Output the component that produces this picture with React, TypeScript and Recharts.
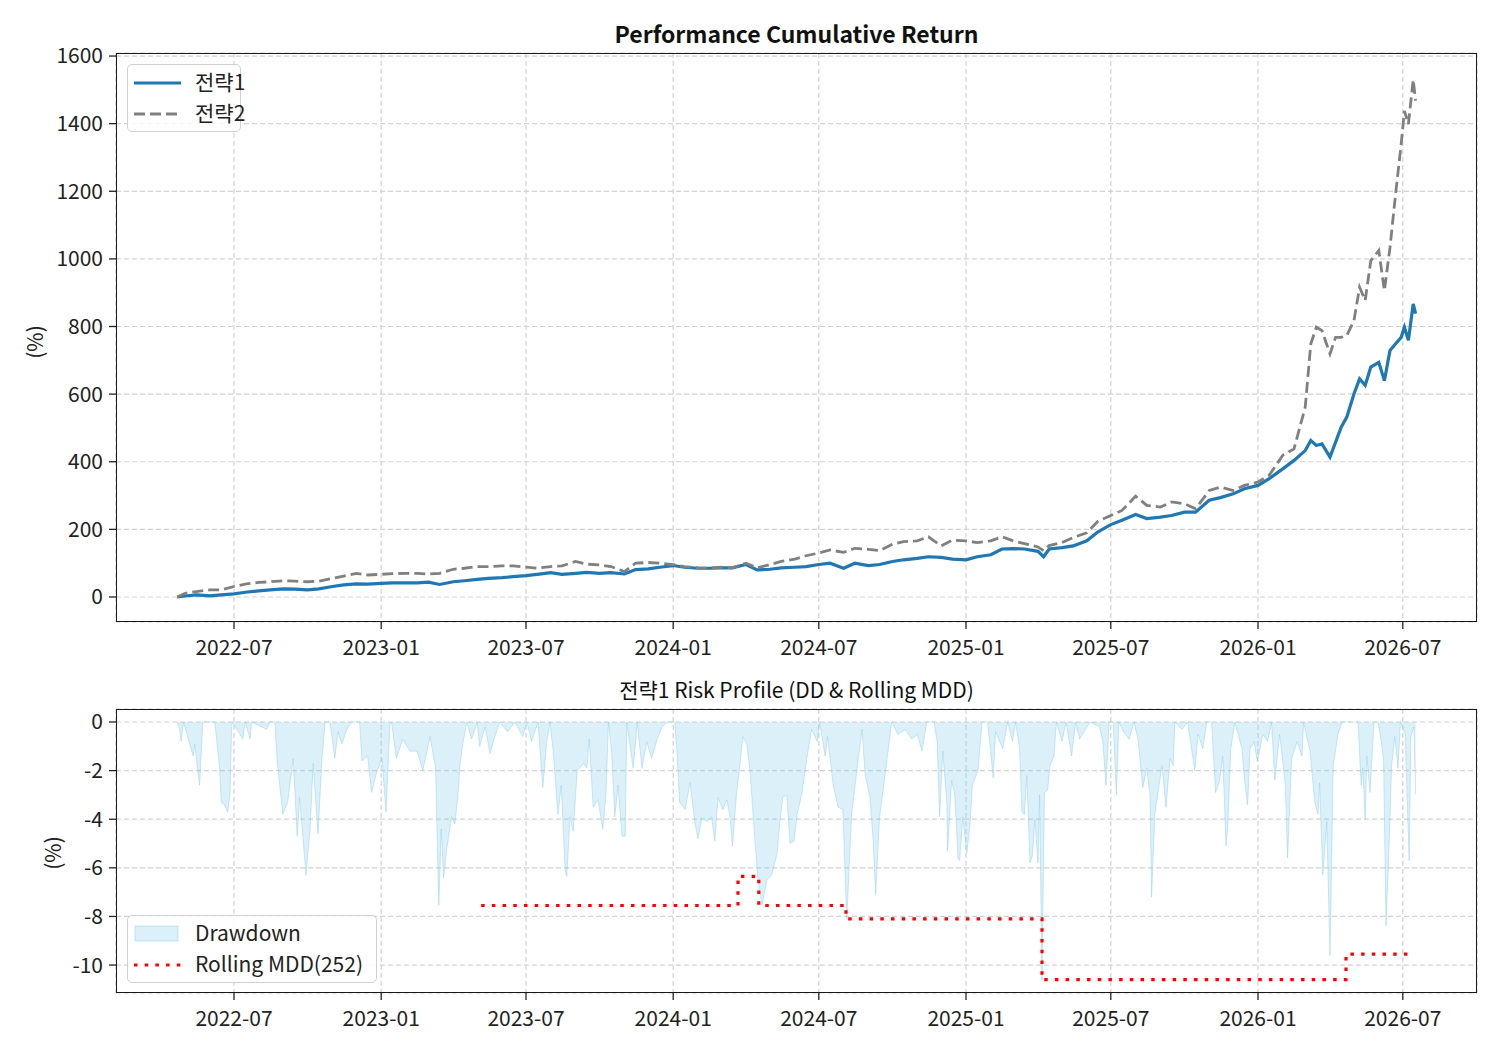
import React from 'react';
import { LineChart, ComposedChart, Line, Area, XAxis, YAxis, CartesianGrid } from 'recharts';

const FONT = '"Noto Sans CJK KR", "Noto Sans", sans-serif';

// cumulative return (%)
const perfDates = [
  '2022-04-21', '2022-05-01', '2022-05-15', '2022-06-01', '2022-06-15', '2022-07-01', '2022-07-15',
  '2022-08-01', '2022-08-15', '2022-09-01', '2022-09-15', '2022-10-01', '2022-10-15', '2022-11-01',
  '2022-11-15', '2022-12-01', '2022-12-15', '2023-01-01', '2023-01-15', '2023-02-01', '2023-02-15',
  '2023-03-01', '2023-03-15', '2023-04-01', '2023-04-15', '2023-05-01', '2023-05-15', '2023-06-01',
  '2023-06-15', '2023-07-01', '2023-07-15', '2023-08-01', '2023-08-15', '2023-09-01', '2023-09-15',
  '2023-10-01', '2023-10-15', '2023-11-01', '2023-11-15', '2023-12-01', '2023-12-15', '2024-01-01',
  '2024-01-15', '2024-02-01', '2024-02-15', '2024-03-01', '2024-03-15', '2024-04-01', '2024-04-15',
  '2024-05-01', '2024-05-15', '2024-06-01', '2024-06-15', '2024-07-01', '2024-07-15', '2024-08-01',
  '2024-08-15', '2024-09-01', '2024-09-15', '2024-10-01', '2024-10-15', '2024-11-01', '2024-11-15',
  '2024-12-01', '2024-12-15', '2025-01-01', '2025-01-15', '2025-02-01', '2025-02-15', '2025-03-01',
  '2025-03-15', '2025-04-01', '2025-04-08', '2025-04-15', '2025-05-01', '2025-05-15', '2025-06-01',
  '2025-06-15', '2025-07-01', '2025-07-15', '2025-08-01', '2025-08-15', '2025-09-01', '2025-09-15',
  '2025-10-01', '2025-10-15', '2025-11-01', '2025-11-15', '2025-12-01', '2025-12-15', '2026-01-01',
  '2026-01-15', '2026-02-01', '2026-02-15', '2026-03-01', '2026-03-08', '2026-03-15', '2026-03-22',
  '2026-04-01', '2026-04-08', '2026-04-15', '2026-04-22', '2026-05-01', '2026-05-08', '2026-05-15',
  '2026-05-22', '2026-06-01', '2026-06-08', '2026-06-15', '2026-06-22', '2026-06-29', '2026-07-03',
  '2026-07-08', '2026-07-14', '2026-07-17',
];
const strategy1 = [
  0, 3, 6, 3, 6, 9, 14,
  18, 21, 24, 23, 21, 24, 31,
  36, 39, 38, 40, 42, 42, 42,
  44, 37, 45, 48, 52, 55, 57,
  60, 63, 67, 72, 67, 70, 73,
  70, 72, 68, 81, 83, 88, 93,
  88, 85, 85, 86, 86, 96, 80,
  82, 86, 88, 90, 96, 100, 85,
  100, 93, 96, 105, 110, 114, 119,
  117, 112, 110, 119, 125, 142, 143,
  142, 135, 119, 142, 146, 151, 166,
  193, 214, 227, 244, 232, 236, 241,
  251, 251, 286, 294, 305, 320, 330,
  350, 379, 404, 433, 463, 448, 453,
  414, 458, 502, 532, 601, 645, 626,
  680, 694, 640, 729, 749, 768, 798,
  759, 867, 838,
];
const strategy2 = [
  0, 11, 16, 21, 21, 31, 38,
  43, 45, 48, 47, 45, 47, 55,
  62, 70, 65, 67, 69, 70, 70,
  68, 70, 82, 85, 90, 90, 92,
  92, 88, 85, 90, 92, 105, 97,
  95, 90, 75, 100, 102, 100, 96,
  90, 86, 85, 88, 86, 100, 86,
  96, 105, 112, 122, 130, 139, 132,
  144, 141, 137, 156, 164, 166, 178,
  151, 168, 166, 161, 166, 178, 166,
  158, 148, 137, 152, 161, 176, 190,
  224, 241, 256, 298, 271, 266, 281,
  276, 261, 315, 325, 315, 330, 340,
  360, 419, 438, 561, 749, 798, 788,
  719, 768, 768, 773, 818, 916, 877,
  995, 1025, 906, 1034, 1192, 1340, 1438,
  1399, 1530, 1468,
];

// 전략1 drawdown (%)
const ddDates = [
  '2022-04-21', '2022-04-24', '2022-04-26', '2022-04-29', '2022-05-11', '2022-05-13', '2022-05-19', '2022-05-23',
  '2022-06-07', '2022-06-13', '2022-06-15', '2022-06-19', '2022-06-23', '2022-06-26', '2022-06-28', '2022-06-29',
  '2022-07-12', '2022-07-15', '2022-07-21', '2022-07-23', '2022-08-11', '2022-08-15', '2022-08-21', '2022-08-24',
  '2022-08-31', '2022-09-06', '2022-09-13', '2022-09-18', '2022-09-21', '2022-09-29', '2022-10-04', '2022-10-08',
  '2022-10-14', '2022-10-19', '2022-10-23', '2022-10-29', '2022-11-04', '2022-11-08', '2022-11-13', '2022-11-19',
  '2022-11-25', '2022-12-05', '2022-12-08', '2022-12-15', '2022-12-20', '2022-12-26', '2023-01-02', '2023-01-07',
  '2023-01-12', '2023-01-14', '2023-01-20', '2023-01-28', '2023-02-06', '2023-02-15', '2023-02-22', '2023-03-03',
  '2023-03-10', '2023-03-14', '2023-03-17', '2023-03-20', '2023-03-24', '2023-03-30', '2023-04-03', '2023-04-07',
  '2023-04-09', '2023-04-13', '2023-04-18', '2023-04-24', '2023-05-01', '2023-05-04', '2023-05-11', '2023-05-17',
  '2023-05-22', '2023-05-29', '2023-06-08', '2023-06-17', '2023-06-27', '2023-07-02', '2023-07-08', '2023-07-16',
  '2023-07-22', '2023-07-27', '2023-07-31', '2023-08-04', '2023-08-10', '2023-08-14', '2023-08-19', '2023-08-21',
  '2023-08-25', '2023-08-29', '2023-09-03', '2023-09-06', '2023-09-11', '2023-09-15', '2023-09-18', '2023-09-23',
  '2023-09-29', '2023-10-05', '2023-10-09', '2023-10-12', '2023-10-16', '2023-10-20', '2023-10-24', '2023-10-29',
  '2023-11-02', '2023-11-04', '2023-11-12', '2023-11-17', '2023-11-23', '2023-11-29', '2023-12-05', '2023-12-12',
  '2023-12-18', '2023-12-25', '2024-01-03', '2024-01-06', '2024-01-09', '2024-01-16', '2024-01-22', '2024-01-28',
  '2024-02-01', '2024-02-06', '2024-02-12', '2024-02-18', '2024-02-22', '2024-02-26', '2024-03-03', '2024-03-08',
  '2024-03-12', '2024-03-15', '2024-03-20', '2024-03-24', '2024-03-28', '2024-04-02', '2024-04-06', '2024-04-12',
  '2024-04-16', '2024-04-21', '2024-04-27', '2024-05-03', '2024-05-10', '2024-05-13', '2024-05-17', '2024-05-22',
  '2024-05-26', '2024-05-31', '2024-06-04', '2024-06-10', '2024-06-16', '2024-06-22', '2024-06-29', '2024-07-02',
  '2024-07-09', '2024-07-12', '2024-07-19', '2024-07-25', '2024-07-31', '2024-08-05', '2024-08-11', '2024-08-18',
  '2024-08-24', '2024-08-28', '2024-09-03', '2024-09-07', '2024-09-10', '2024-09-15', '2024-09-21', '2024-09-30',
  '2024-10-08', '2024-10-17', '2024-10-25', '2024-11-01', '2024-11-07', '2024-11-13', '2024-11-22', '2024-11-26',
  '2024-11-29', '2024-12-03', '2024-12-08', '2024-12-09', '2024-12-14', '2024-12-18', '2024-12-22', '2024-12-24',
  '2024-12-28', '2025-01-02', '2025-01-06', '2025-01-09', '2025-01-16', '2025-01-21', '2025-01-28', '2025-02-04',
  '2025-02-07', '2025-02-16', '2025-02-22', '2025-02-28', '2025-03-04', '2025-03-09', '2025-03-12', '2025-03-15',
  '2025-03-18', '2025-03-22', '2025-03-25', '2025-03-28', '2025-04-01', '2025-04-03', '2025-04-06', '2025-04-09',
  '2025-04-13', '2025-04-16', '2025-04-21', '2025-04-24', '2025-05-01', '2025-05-06', '2025-05-13', '2025-05-18',
  '2025-05-23', '2025-06-05', '2025-06-17', '2025-06-21', '2025-06-25', '2025-06-29', '2025-07-04', '2025-07-08',
  '2025-07-11', '2025-07-17', '2025-07-24', '2025-07-30', '2025-08-04', '2025-08-10', '2025-08-15', '2025-08-19',
  '2025-08-21', '2025-08-25', '2025-08-29', '2025-09-03', '2025-09-08', '2025-09-13', '2025-09-17', '2025-09-19',
  '2025-09-28', '2025-10-05', '2025-10-14', '2025-10-18', '2025-10-24', '2025-10-29', '2025-11-04', '2025-11-09',
  '2025-11-14', '2025-11-18', '2025-11-22', '2025-11-24', '2025-11-28', '2025-12-03', '2025-12-12', '2025-12-15',
  '2025-12-19', '2025-12-22', '2025-12-27', '2025-12-31', '2026-01-03', '2026-01-07', '2026-01-13', '2026-01-18',
  '2026-01-22', '2026-01-28', '2026-02-04', '2026-02-07', '2026-02-12', '2026-02-19', '2026-02-25', '2026-02-27',
  '2026-03-07', '2026-03-13', '2026-03-17', '2026-03-19', '2026-03-23', '2026-03-28', '2026-04-01', '2026-04-05',
  '2026-04-11', '2026-04-16', '2026-04-28', '2026-05-06', '2026-05-10', '2026-05-12', '2026-05-15', '2026-05-17',
  '2026-05-21', '2026-05-26', '2026-05-31', '2026-06-05', '2026-06-07', '2026-06-10', '2026-06-14', '2026-06-17',
  '2026-06-21', '2026-06-25', '2026-06-28', '2026-07-04', '2026-07-06', '2026-07-09', '2026-07-11', '2026-07-15',
  '2026-07-17',
];
const ddValues = [
  0, -0.3, -0.8, 0, -1.4, -0.9, -2.6, 0,
  0, -1.9, -3.3, -3.4, -3.7, -3.0, -0.2, 0,
  -0.7, 0, -0.7, 0, -0.3, 0, 0, -1.6,
  -3.8, -3.3, -1.5, -4.7, -3.1, -6.3, -4.4, -1.7,
  -4.6, -1.5, 0, 0, -1.5, -0.4, -0.9, -0.3,
  0, 0, -1.6, -1.4, -2.9, -2.1, -1.5, -3.7,
  -0.1, 0, -1.5, -0.7, -1.2, -1.2, -2.0, -0.6,
  -1.9, -7.55, -4.4, -6.4, -5.2, -3.9, -4.2, -3.0,
  -1.9, -0.9, 0, -0.7, 0, -1.0, -0.2, -1.3,
  -0.7, 0, -0.4, 0, -0.6, 0, -0.8, 0,
  -2.7, -0.8, 0, -1.2, -3.8, -2.6, -6.1, -6.35,
  -3.9, -4.5, -2.0, -1.9, -1.7, -1.9, -0.7, -3.5,
  -3.2, -4.4, -3.0, 0, -1.2, -3.9, -2.6, -4.7,
  -4.7, 0, -1.9, 0, -1.9, -0.8, -1.5, -0.7,
  -0.2, 0, 0, -1.4, -3.3, -3.6, -2.5, -4.1,
  -4.8, -3.9, -4.1, -3.9, -4.9, -3.1, -3.6, -3.2,
  -3.9, -5.1, -3.0, -1.9, -0.6, -0.9, -2.0, -4.8,
  -6.5, -7.55, -6.5, -6.3, -5.4, -4.2, -3.1, -3.0,
  -5.0, -4.9, -3.8, -2.9, -1.5, -0.3, -0.8, 0,
  -1.4, -0.6, -2.6, -3.5, -3.6, -8.1, -3.8, -1.9,
  -0.3, -2.2, -3.1, -4.9, -7.1, -3.9, -2.4, 0,
  -0.5, -0.3, -0.7, -0.5, -1.2, 0, 0, -0.8,
  -3.9, -1.2, -3.3, -5.3, -2.4, -3.0, -5.6, -5.7,
  -3.9, -5.4, -4.2, -2.6, -2.0, 0, 0, -2.3,
  -0.4, -1.1, 0, -0.8, 0, -1.1, -3.7, -3.8,
  -2.2, -5.8, -5.5, -4.0, -5.8, -3.0, -10.6, -2.9,
  -2.8, -1.8, -1.4, 0, -0.8, 0, -1.4, 0,
  -0.7, 0, -0.2, -0.8, -2.6, 0, 0, -3.0,
  0, -0.4, -0.7, 0, -0.7, -2.7, -1.9, -3.0,
  -7.2, -3.8, -2.9, -1.8, -3.5, -1.5, -1.8, 0,
  -0.3, 0, -2.0, -0.5, -1.1, 0, 0, -2.9,
  -2.4, -1.4, -5.1, -4.4, -1.1, 0, -1.1, -2.3,
  -3.4, -1.1, -0.8, -1.6, -1.2, -0.5, -0.8, 0,
  -2.4, -0.5, -2.5, -5.6, -1.5, -0.8, -1.4, 0,
  -1.2, -3.3, -3.8, -2.5, -6.3, -4.1, -9.6, -1.8,
  -0.5, 0, 0, 0, -2.6, -1.9, -4.0, -1.4,
  -2.9, 0, 0, -1.0, -1.6, -8.4, -4.9, -1.8,
  -0.6, -1.9, 0, -0.5, -2.7, -5.7, -0.6, -0.2,
  -3.0,
];

// rolling 252-day MDD (%), steps
const mddDates = ['2023-05-06', '2024-03-22', '2024-04-17', '2024-08-04', '2025-04-06', '2026-04-21', '2026-07-14'];
const mddValues = [-7.55, -6.35, -7.55, -8.1, -10.6, -9.55, -9.55];

const xTickDates = [
  '2022-07-01', '2023-01-01', '2023-07-01', '2024-01-01', '2024-07-01',
  '2025-01-01', '2025-07-01', '2026-01-01', '2026-07-01',
];
const perfTicks = [0, 200, 400, 600, 800, 1000, 1200, 1400, 1600];
const ddTicks = [-10, -8, -6, -4, -2, 0];

const toTime = (d: string) => Date.parse(`${d}T00:00:00Z`);
const DAY = 86400000;
const xTicks = xTickDates.map(toTime);
const xDomain: [number, number] = [toTime('2022-07-01') - 147.5 * DAY, toTime('2022-07-01') + 1553.75 * DAY];
const fmtMonth = (v: number) => new Date(v).toISOString().slice(0, 7);

const perfData = perfDates.map((d, i) => ({ t: toTime(d), s1: strategy1[i], s2: strategy2[i] }));

const riskMap = new Map<number, { t: number; dd?: number; mdd?: number }>();
ddDates.forEach((d, i) => {
  const t = toTime(d);
  riskMap.set(t, { ...(riskMap.get(t) || { t }), dd: ddValues[i] });
});
mddDates.forEach((d, i) => {
  const t = toTime(d);
  riskMap.set(t, { ...(riskMap.get(t) || { t }), mdd: mddValues[i] });
});
const riskData = Array.from(riskMap.values()).sort((a, b) => a.t - b.t);

const tickStyle = { fill: '#222', fontSize: 21, fontFamily: FONT };
const gridColor = '#d2d2d2';

const Frame = ({ left, top, width, height }: { left: number; top: number; width: number; height: number }) => (
  <div
    style={{
      position: 'absolute', left, top, width, height, boxSizing: 'border-box',
      border: '1.5px solid #1a1a1a', pointerEvents: 'none',
    }}
  />
);

const YLabel = ({ x, y }: { x: number; y: number }) => (
  <div
    style={{
      position: 'absolute', left: x, top: y, transform: 'translate(-50%, -50%) rotate(-90deg)',
      fontSize: 21, color: '#222', whiteSpace: 'nowrap',
    }}
  >
    (%)
  </div>
);

const legendBox: React.CSSProperties = {
  position: 'absolute', background: 'rgba(255,255,255,0.85)', border: '1.3px solid #d0d0d0',
  borderRadius: 5, boxSizing: 'border-box', fontSize: 21, color: '#222', whiteSpace: 'nowrap',
};

const App: React.FC = () => (
  <div style={{ position: 'absolute', left: 0, top: 0, width: 1500, height: 1050, background: '#fff', fontFamily: FONT }}>
    <div style={{ position: 'absolute', left: 116, width: 1361, top: 16, textAlign: 'center', fontSize: 23, fontWeight: 700, color: '#111', whiteSpace: 'nowrap' }}>
      Performance Cumulative Return
    </div>

    <div style={{ position: 'absolute', left: 0, top: 0 }}>
      <LineChart width={1500} height={660} data={perfData} margin={{ top: 53, right: 23, bottom: 8, left: 0 }}>
        <CartesianGrid stroke={gridColor} strokeDasharray="5 3" strokeWidth={1.2} />
        <XAxis
          dataKey="t" type="number" domain={xDomain} ticks={xTicks} tickFormatter={fmtMonth}
          allowDataOverflow height={30} tick={tickStyle} tickSize={7} tickMargin={11}
          axisLine={false} tickLine={{ stroke: '#222', strokeWidth: 1.3 }}
        />
        <YAxis
          type="number" domain={[-74, 1609]} ticks={perfTicks} allowDataOverflow width={116}
          tick={tickStyle} tickSize={7} tickMargin={6} axisLine={false} tickLine={{ stroke: '#222', strokeWidth: 1.3 }}
        />
        <Line dataKey="s1" type="linear" stroke="#1f77b4" strokeWidth={3.2} dot={false} isAnimationActive={false} />
        <Line dataKey="s2" type="linear" stroke="#808080" strokeWidth={2.8} strokeDasharray="11 5" dot={false} isAnimationActive={false} />
      </LineChart>
    </div>
    <Frame left={116} top={53} width={1361} height={569} />
    <YLabel x={34} y={342} />

    <div style={{ ...legendBox, left: 127, top: 64, width: 114, height: 68 }}>
      <svg width={60} height={68} style={{ position: 'absolute', left: 0, top: 0 }}>
        <line x1={6} x2={53} y1={18} y2={18} stroke="#1f77b4" strokeWidth={3.2} />
        <line x1={6} x2={53} y1={49} y2={49} stroke="#808080" strokeWidth={2.8} strokeDasharray="11 5" />
      </svg>
      <div style={{ position: 'absolute', left: 67, top: 1 }}>전략1</div>
      <div style={{ position: 'absolute', left: 67, top: 32 }}>전략2</div>
    </div>

    <div style={{ position: 'absolute', left: 116, width: 1361, top: 674, textAlign: 'center', fontSize: 21, color: '#111', whiteSpace: 'nowrap' }}>
      전략1 Risk Profile (DD &amp; Rolling MDD)
    </div>

    <div style={{ position: 'absolute', left: 0, top: 680 }}>
      <ComposedChart width={1500} height={360} data={riskData} margin={{ top: 29, right: 23, bottom: 17, left: 0 }}>
        <CartesianGrid stroke={gridColor} strokeDasharray="5 3" strokeWidth={1.2} />
        <XAxis
          dataKey="t" type="number" domain={xDomain} ticks={xTicks} tickFormatter={fmtMonth}
          allowDataOverflow height={30} tick={tickStyle} tickSize={7} tickMargin={11}
          axisLine={false} tickLine={{ stroke: '#222', strokeWidth: 1.3 }}
        />
        <YAxis
          type="number" domain={[-11.15, 0.535]} ticks={ddTicks} allowDataOverflow width={116}
          tick={tickStyle} tickSize={7} tickMargin={6} axisLine={false} tickLine={{ stroke: '#222', strokeWidth: 1.3 }}
        />
        <Area
          dataKey="dd" type="linear" baseValue={0} connectNulls fill="#87ceeb" fillOpacity={0.3}
          stroke="#87ceeb" strokeOpacity={0.45} strokeWidth={1} dot={false} isAnimationActive={false}
        />
        <Line
          dataKey="mdd" type="stepAfter" connectNulls stroke="#ff0000" strokeWidth={3.2}
          strokeDasharray="3.5 7.2" dot={false} isAnimationActive={false}
        />
      </ComposedChart>
    </div>
    <Frame left={116} top={709} width={1361} height={284} />
    <YLabel x={52} y={853} />

    <div style={{ ...legendBox, left: 127, top: 915, width: 250, height: 68 }}>
      <svg width={60} height={68} style={{ position: 'absolute', left: 0, top: 0 }}>
        <rect x={7} y={10} width={43} height={15} fill="#87ceeb" fillOpacity={0.3} stroke="#87ceeb" strokeOpacity={0.45} />
        <line x1={6} x2={53} y1={49} y2={49} stroke="#ff0000" strokeWidth={3.2} strokeDasharray="3.5 7.2" />
      </svg>
      <div style={{ position: 'absolute', left: 67, top: 1 }}>Drawdown</div>
      <div style={{ position: 'absolute', left: 67, top: 32 }}>Rolling MDD(252)</div>
    </div>
  </div>
);

export default App;
